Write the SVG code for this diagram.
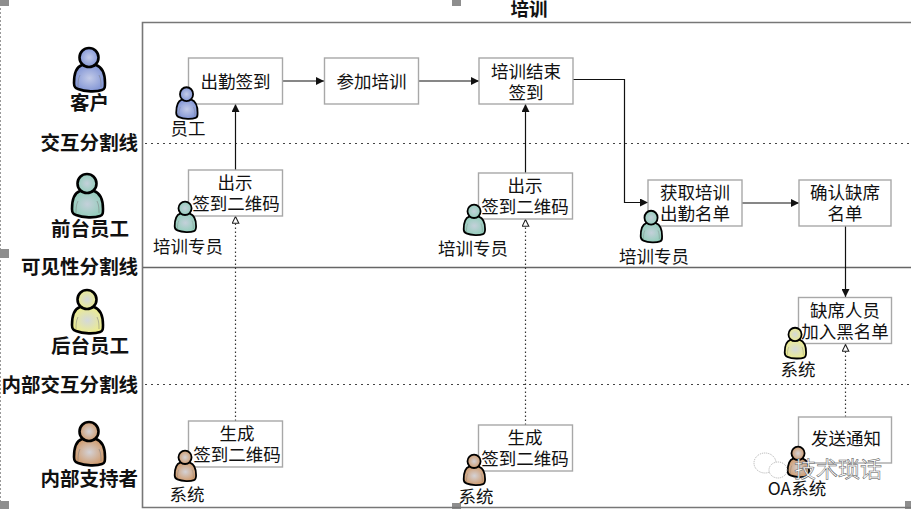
<svg xmlns="http://www.w3.org/2000/svg" width="911" height="509" viewBox="0 0 911 509">
<style>
text{font-family:"Noto Sans CJK SC","Liberation Sans",sans-serif;fill:#111}
.lane{font-size:19.500px;font-weight:700;text-anchor:end}
.c{font-size:17.500px;text-anchor:middle}
.box{fill:#fff;stroke:#a8a8a8;stroke-width:1.4}
.skin{stroke:#000;stroke-width:2.600}
.fold{fill:none;stroke:#777;stroke-width:.7;opacity:.7}
.h{fill:#8e8e8e}
.solid{fill:none;stroke:#111;stroke-width:1.2}
.dot{fill:none;stroke:#333;stroke-width:1.2;stroke-dasharray:1.5 2.5}
.sep{fill:none;stroke:#444;stroke-width:1.2;stroke-dasharray:2 4}
</style>
<defs>
<radialGradient id="blue"><stop offset="0" stop-color="#c3cbe8"/><stop offset="1" stop-color="#8497d6"/></radialGradient>
<radialGradient id="teal"><stop offset="0" stop-color="#c4d0da"/><stop offset="1" stop-color="#94cdbb"/></radialGradient>
<radialGradient id="yellow"><stop offset="0" stop-color="#d3d8dc"/><stop offset="1" stop-color="#ecec8e"/></radialGradient>
<radialGradient id="brown"><stop offset="0" stop-color="#d4d2d6"/><stop offset="1" stop-color="#cf9c70"/></radialGradient>
<marker id="solidHead" markerWidth="9" markerHeight="8" refX="8" refY="4" orient="auto" markerUnits="userSpaceOnUse"><path d="M0 0L8 4L0 8Z" fill="#111"/></marker>
<marker id="openHead" markerWidth="9" markerHeight="8" refX="8" refY="4" orient="auto" markerUnits="userSpaceOnUse"><path d="M.7 .7L7.6 4L.7 7.3Z" fill="#fff" stroke="#222" stroke-width="1.1"/></marker>
<g id="person">
<path class="skin" d="M9 18C3 20 1 27 1 36C1 40 2 41 5 42C12 45 24 45 29 43C32 42 32 40 32 36C32 27 29 20 23 18Z"/>
<circle class="skin" cx="16" cy="10.500" r="9.500"/>
<path class="fold" d="M7 28C5 32 5 36 5 40M26 28C28 32 28 36 28 40"/>
</g>
</defs>

<!-- selection handles and page edge -->
<path d="M.5 0V509" fill="none" stroke="#999" stroke-dasharray="2 2"/>
<g class="h">
<rect x="0" y="0" width="9" height="6"/><rect x="0" y="249" width="9" height="9"/><rect x="0" y="501" width="9" height="8"/>
<rect x="452" y="0" width="9" height="6"/><rect x="452" y="503" width="9" height="6"/><rect x="905" y="501" width="6" height="8"/>
</g>

<!-- blueprint frame and lane dividers -->
<path d="M911 22.500H142.500V507.500H911" fill="none" stroke="#777" stroke-width="1.6"/>
<path d="M143 267.500H911" fill="none" stroke="#666" stroke-width="1.6"/>
<path class="sep" d="M145 143.500H911M145 384.500H911"/>
<text x="529" y="16" text-anchor="middle" style="font-size:18.500px;font-weight:700">培训</text>

<!-- lane labels -->
<g id="lanes">
<text class="lane" x="109" y="110">客户</text>
<text class="lane" x="138" y="150">交互分割线</text>
<text class="lane" x="129" y="236">前台员工</text>
<text class="lane" x="138" y="274">可见性分割线</text>
<text class="lane" x="129" y="353">后台员工</text>
<text class="lane" x="138" y="392">内部交互分割线</text>
<text class="lane" x="138" y="486">内部支持者</text>
</g>
<g id="lane-figures">
<use href="#person" transform="translate(73 47)" fill="url(#blue)"/>
<use href="#person" transform="translate(71 173)" fill="url(#teal)"/>
<use href="#person" transform="translate(71 289)" fill="url(#yellow)"/>
<use href="#person" transform="translate(73 421)" fill="url(#brown)"/>
</g>

<!-- connectors -->
<g id="connectors">
<path class="solid" marker-end="url(#solidHead)" d="M282 81H324"/>
<path class="solid" marker-end="url(#solidHead)" d="M418 81H479"/>
<path class="solid" marker-end="url(#solidHead)" d="M573 79.500H624.500V202.500H648"/>
<path class="solid" marker-end="url(#solidHead)" d="M742 203H799"/>
<path class="solid" marker-end="url(#solidHead)" d="M845.500 226V297"/>
<path class="solid" marker-end="url(#solidHead)" d="M235.500 170V104"/>
<path class="solid" marker-end="url(#solidHead)" d="M525.500 173V104"/>
<path class="dot" marker-end="url(#openHead)" d="M235.500 421V216"/>
<path class="dot" marker-end="url(#openHead)" d="M525.500 425V219"/>
<path class="dot" marker-end="url(#openHead)" d="M845.500 417V344"/>
</g>

<!-- activity nodes -->
<g id="n-checkin"><rect class="box" x="188.500" y="58" width="94" height="46"/><text class="c" x="235.500" y="87.500">出勤签到</text>
<use href="#person" transform="translate(175.500 86.500) scale(.69 .73)" fill="url(#blue)"/><text class="c" x="188" y="135">员工</text></g>
<g id="n-attend"><rect class="box" x="324.500" y="58" width="94" height="46"/><text class="c" x="371.500" y="87.500">参加培训</text></g>
<g id="n-finish"><rect class="box" x="479" y="58" width="94" height="46"/><text class="c" x="526" y="77.500">培训结束</text><text class="c" x="526" y="98.500">签到</text></g>
<g id="n-show1"><rect class="box" x="188.500" y="170" width="94" height="46"/><text class="c" x="235" y="189">出示</text><text class="c" x="236" y="210">签到二维码</text>
<use href="#person" transform="translate(174 201) scale(.69 .7)" fill="url(#teal)"/><text class="c" x="188" y="253">培训专员</text></g>
<g id="n-show2"><rect class="box" x="478.500" y="173" width="94" height="46"/><text class="c" x="525" y="191.500">出示</text><text class="c" x="525" y="212.500">签到二维码</text>
<use href="#person" transform="translate(463 204) scale(.69 .7)" fill="url(#teal)"/><text class="c" x="473" y="254.500">培训专员</text></g>
<g id="n-fetch"><rect class="box" x="648" y="180" width="94" height="46"/><text class="c" x="695" y="198.500">获取培训</text><text class="c" x="695" y="219.500">出勤名单</text>
<use href="#person" transform="translate(640 210) scale(.69 .73)" fill="url(#teal)"/><text class="c" x="654" y="262.500">培训专员</text></g>
<g id="n-confirm"><rect class="box" x="799" y="180" width="92" height="46"/><text class="c" x="845" y="198.500">确认缺席</text><text class="c" x="845" y="219.500">名单</text></g>
<g id="n-blacklist"><rect class="box" x="798.500" y="297.500" width="93" height="46"/><text class="c" x="845" y="316.500">缺席人员</text><text class="c" x="845" y="337.500">加入黑名单</text>
<use href="#person" transform="translate(784 327) scale(.69 .71)" fill="url(#yellow)"/><text class="c" x="798" y="375.500">系统</text></g>
<g id="n-gen1"><rect class="box" x="188.500" y="421" width="94" height="46"/><text class="c" x="237" y="439.500">生成</text><text class="c" x="237" y="461">签到二维码</text>
<use href="#person" transform="translate(174 450) scale(.69 .7)" fill="url(#brown)"/><text class="c" x="187" y="500.500">系统</text></g>
<g id="n-gen2"><rect class="box" x="478.500" y="425" width="94" height="46"/><text class="c" x="525" y="443.500">生成</text><text class="c" x="525" y="464.500">签到二维码</text>
<use href="#person" transform="translate(463 454) scale(.69 .7)" fill="url(#brown)"/><text class="c" x="476" y="503">系统</text></g>
<g id="n-notify"><rect class="box" x="798.500" y="417" width="93" height="46"/><text class="c" x="846" y="444.500">发送通知</text>
<use href="#person" transform="translate(787 446) scale(.69 .7)" fill="url(#brown)"/><text class="c" x="797" y="495">OA系统</text></g>

<!-- account mark along the lower edge -->
<g id="mark">
<g fill="#fff" stroke="#999" stroke-width=".8" stroke-dasharray="1 1">
<ellipse cx="765" cy="463" rx="11" ry="10"/><ellipse cx="778" cy="470" rx="9" ry="8"/>
</g>
<text x="838" y="477" text-anchor="middle" style="font-size:22px;fill:#fff;stroke:#555;stroke-width:.5">技术琐话</text>
</g>
</svg>
